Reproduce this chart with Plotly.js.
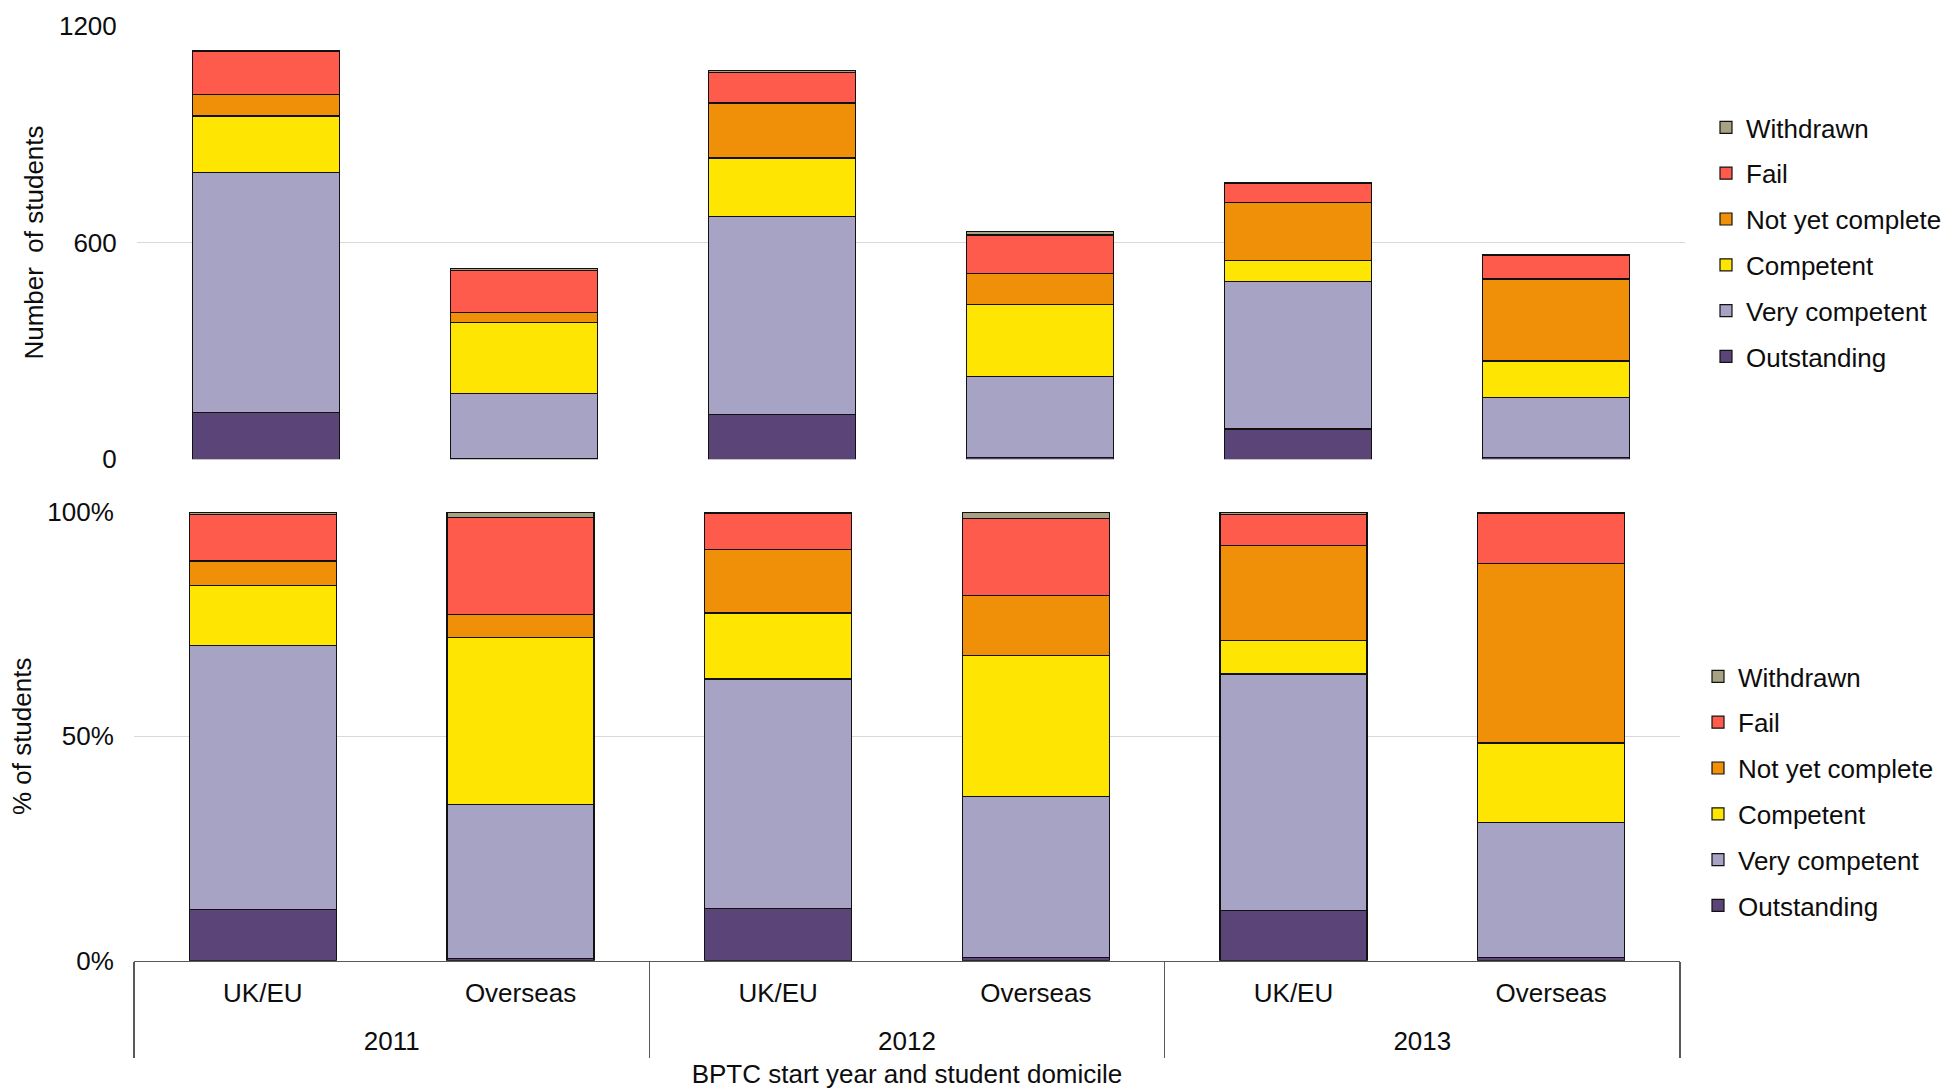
<!DOCTYPE html>
<html>
<head>
<meta charset="utf-8">
<script src="https://cdn.plot.ly/plotly-3.0.1.min.js"></script>
<style>
  html, body { margin: 0; padding: 0; background: #ffffff; }
  #chart { width: 1950px; height: 1089px; }
</style>
</head>
<body>
<div id="chart"></div>
<script>
// Categories
const years = ['2011', '2011', '2012', '2012', '2013', '2013'];
const domicile = ['UK/EU', 'Overseas', 'UK/EU', 'Overseas', 'UK/EU', 'Overseas'];

// Series names (stacking order, bottom to top)
const seriesNames = ['Outstanding', 'Very competent', 'Competent', 'Not yet complete', 'Fail', 'Withdrawn'];

// Top panel: number of students
const countOutstanding   = [130,   3, 123,   5,  84,   5];
const countVeryCompetent = [664, 180, 550, 225, 408, 167];
const countCompetent     = [156, 195, 161, 199,  58, 100];
const countNotYet        = [ 60,  29, 152,  85, 160, 227];
const countFail          = [118, 116,  85, 107,  53,  64];
const countWithdrawn     = [  4,   6,   4,   9,   3,   3];

// Bottom panel: % of students
const pctOutstanding   = [11.4,  0.5, 11.7,  0.7, 11.2,  0.7];
const pctVeryCompetent = [58.9, 34.4, 51.1, 35.9, 52.7, 30.1];
const pctCompetent     = [13.3, 37.1, 14.7, 31.4,  7.5, 17.7];
const pctNotYet        = [ 5.5,  5.1, 14.2, 13.4, 21.2, 40.0];
const pctFail          = [10.3, 21.7,  8.0, 17.1,  6.8, 11.1];
const pctWithdrawn     = [ 0.6,  1.2,  0.3,  1.5,  0.6,  0.4];

// Tick labels
const countTicks = [0, 600, 1200];
const countTickText = ['0', '600', '1200'];
const pctTicks = [0, 50, 100];
const pctTickText = ['0%', '50%', '100%'];

const colors = ['#5B4478', '#A6A3C5', '#FFE502', '#F09009', '#FF5B4C', '#A8A284'];

const countSeries = [countOutstanding, countVeryCompetent, countCompetent, countNotYet, countFail, countWithdrawn];
const pctSeries = [pctOutstanding, pctVeryCompetent, pctCompetent, pctNotYet, pctFail, pctWithdrawn];

// Category index helpers for the two-level axis labels
const catIdx = domicile.map((_, i) => i);
const uniqYears = years.filter((y, i) => years.indexOf(y) === i);
const yearCenters = uniqYears.map(y => {
  const idx = catIdx.filter(i => years[i] === y);
  return idx.reduce((a, b) => a + b, 0) / idx.length;
});
const dividers = [-0.4999];
for (let i = 1; i < years.length; i++) if (years[i] !== years[i - 1]) dividers.push(i - 0.5);
dividers.push(years.length - 0.5001);

const FONT = 'Liberation Sans, Arial, sans-serif';
const TXT = '#0d0d0d';

const traces = [];
seriesNames.forEach((name, i) => {
  traces.push({
    type: 'bar', name: name, x: [years, domicile], y: countSeries[i],
    xaxis: 'x', yaxis: 'y', legend: 'legend', legendgroup: 'top' + i,
    legendrank: 100 - i,
    marker: { color: colors[i], line: { color: '#111111', width: 1.2 } },
    hoverinfo: 'name+y'
  });
});
seriesNames.forEach((name, i) => {
  traces.push({
    type: 'bar', name: name, x: [years, domicile], y: pctSeries[i],
    xaxis: 'x2', yaxis: 'y2', legend: 'legend2', legendgroup: 'bot' + i,
    legendrank: 100 - i,
    marker: { color: colors[i], line: { color: '#111111', width: 1.2 } },
    hoverinfo: 'name+y'
  });
});
// Empty helper traces so the label / divider axes of the category axis get drawn
['x3', 'x4', 'x5'].forEach(ax => {
  traces.push({
    type: 'scatter', mode: 'markers', x: catIdx, y: catIdx.map(() => null),
    xaxis: ax, yaxis: 'y2', showlegend: false, hoverinfo: 'skip',
    marker: { opacity: 0 }
  });
});

const W = 1950, H = 1089;
const px = v => v / W;
const py = v => 1 - v / H;
const catRange = [-0.5, domicile.length - 0.5];

const overlayBase = {
  overlaying: 'x2', anchor: 'y2', side: 'bottom', type: 'linear',
  range: catRange, autorange: false, showgrid: false, zeroline: false, showline: false,
  tickmode: 'array', tickfont: { family: FONT, size: 26, color: TXT }
};

const layout = {
  width: W, height: H,
  margin: { l: 0, r: 0, t: 0, b: 0 },
  paper_bgcolor: '#ffffff', plot_bgcolor: '#ffffff',
  font: { family: FONT, size: 26, color: TXT },
  barmode: 'stack',
  bargap: 0.43,
  showlegend: true,
  xaxis: {
    type: 'multicategory', domain: [px(137), px(1685)], anchor: 'y',
    range: catRange,
    showticklabels: false, showgrid: false, showline: false, zeroline: false,
    showdividers: false, ticks: ''
  },
  yaxis: {
    domain: [py(459.3), py(25.7)], anchor: 'x',
    range: [0, 1200], tickvals: countTicks, ticktext: countTickText,
    showgrid: true, gridcolor: '#D9D9D9', gridwidth: 1.3,
    zeroline: false, showline: false,
    ticks: 'outside', ticklen: 14, tickcolor: 'rgba(0,0,0,0)',
    tickfont: { family: FONT, size: 26, color: TXT },
    title: { text: 'Number  of students', standoff: 7, font: { family: FONT, size: 26, color: TXT } }
  },
  xaxis2: {
    type: 'multicategory', domain: [px(134), px(1680)], anchor: 'y2',
    range: catRange,
    showgrid: false, zeroline: false, showticklabels: false, showdividers: false,
    showline: true, linecolor: '#595959', linewidth: 1.6, ticks: ''
  },
  xaxis3: Object.assign({}, overlayBase, {
    tickvals: catIdx, ticktext: domicile, ticks: '', ticklabelstandoff: 14
  }),
  xaxis4: Object.assign({}, overlayBase, {
    tickvals: yearCenters, ticktext: uniqYears, ticks: '', ticklabelstandoff: 62,
    title: { text: 'BPTC start year and student domicile', standoff: 12, font: { family: FONT, size: 26, color: TXT } }
  }),
  xaxis5: Object.assign({}, overlayBase, {
    tickvals: dividers, showticklabels: false,
    ticks: 'outside', ticklen: 96, tickwidth: 1.3, tickcolor: '#595959'
  }),
  yaxis2: {
    domain: [py(960.7), py(512)], anchor: 'x2',
    range: [0, 100], tickvals: pctTicks, ticktext: pctTickText,
    showgrid: true, gridcolor: '#D9D9D9', gridwidth: 1.3,
    zeroline: false, showline: false,
    ticks: 'outside', ticklen: 14, tickcolor: 'rgba(0,0,0,0)',
    tickfont: { family: FONT, size: 26, color: TXT },
    title: { text: '% of students', standoff: 8, font: { family: FONT, size: 26, color: TXT } }
  },
  legend: {
    x: px(1706), y: py(104), xanchor: 'left', yanchor: 'top',
    traceorder: 'grouped', tracegroupgap: 9,
    font: { family: FONT, size: 26, color: TXT },
    bgcolor: 'rgba(0,0,0,0)', borderwidth: 0
  },
  legend2: {
    x: px(1698), y: py(653), xanchor: 'left', yanchor: 'top',
    traceorder: 'grouped', tracegroupgap: 9,
    font: { family: FONT, size: 26, color: TXT },
    bgcolor: 'rgba(0,0,0,0)', borderwidth: 0
  }
};

Plotly.newPlot('chart', traces, layout, { staticPlot: true, displayModeBar: false });
</script>
</body>
</html>
